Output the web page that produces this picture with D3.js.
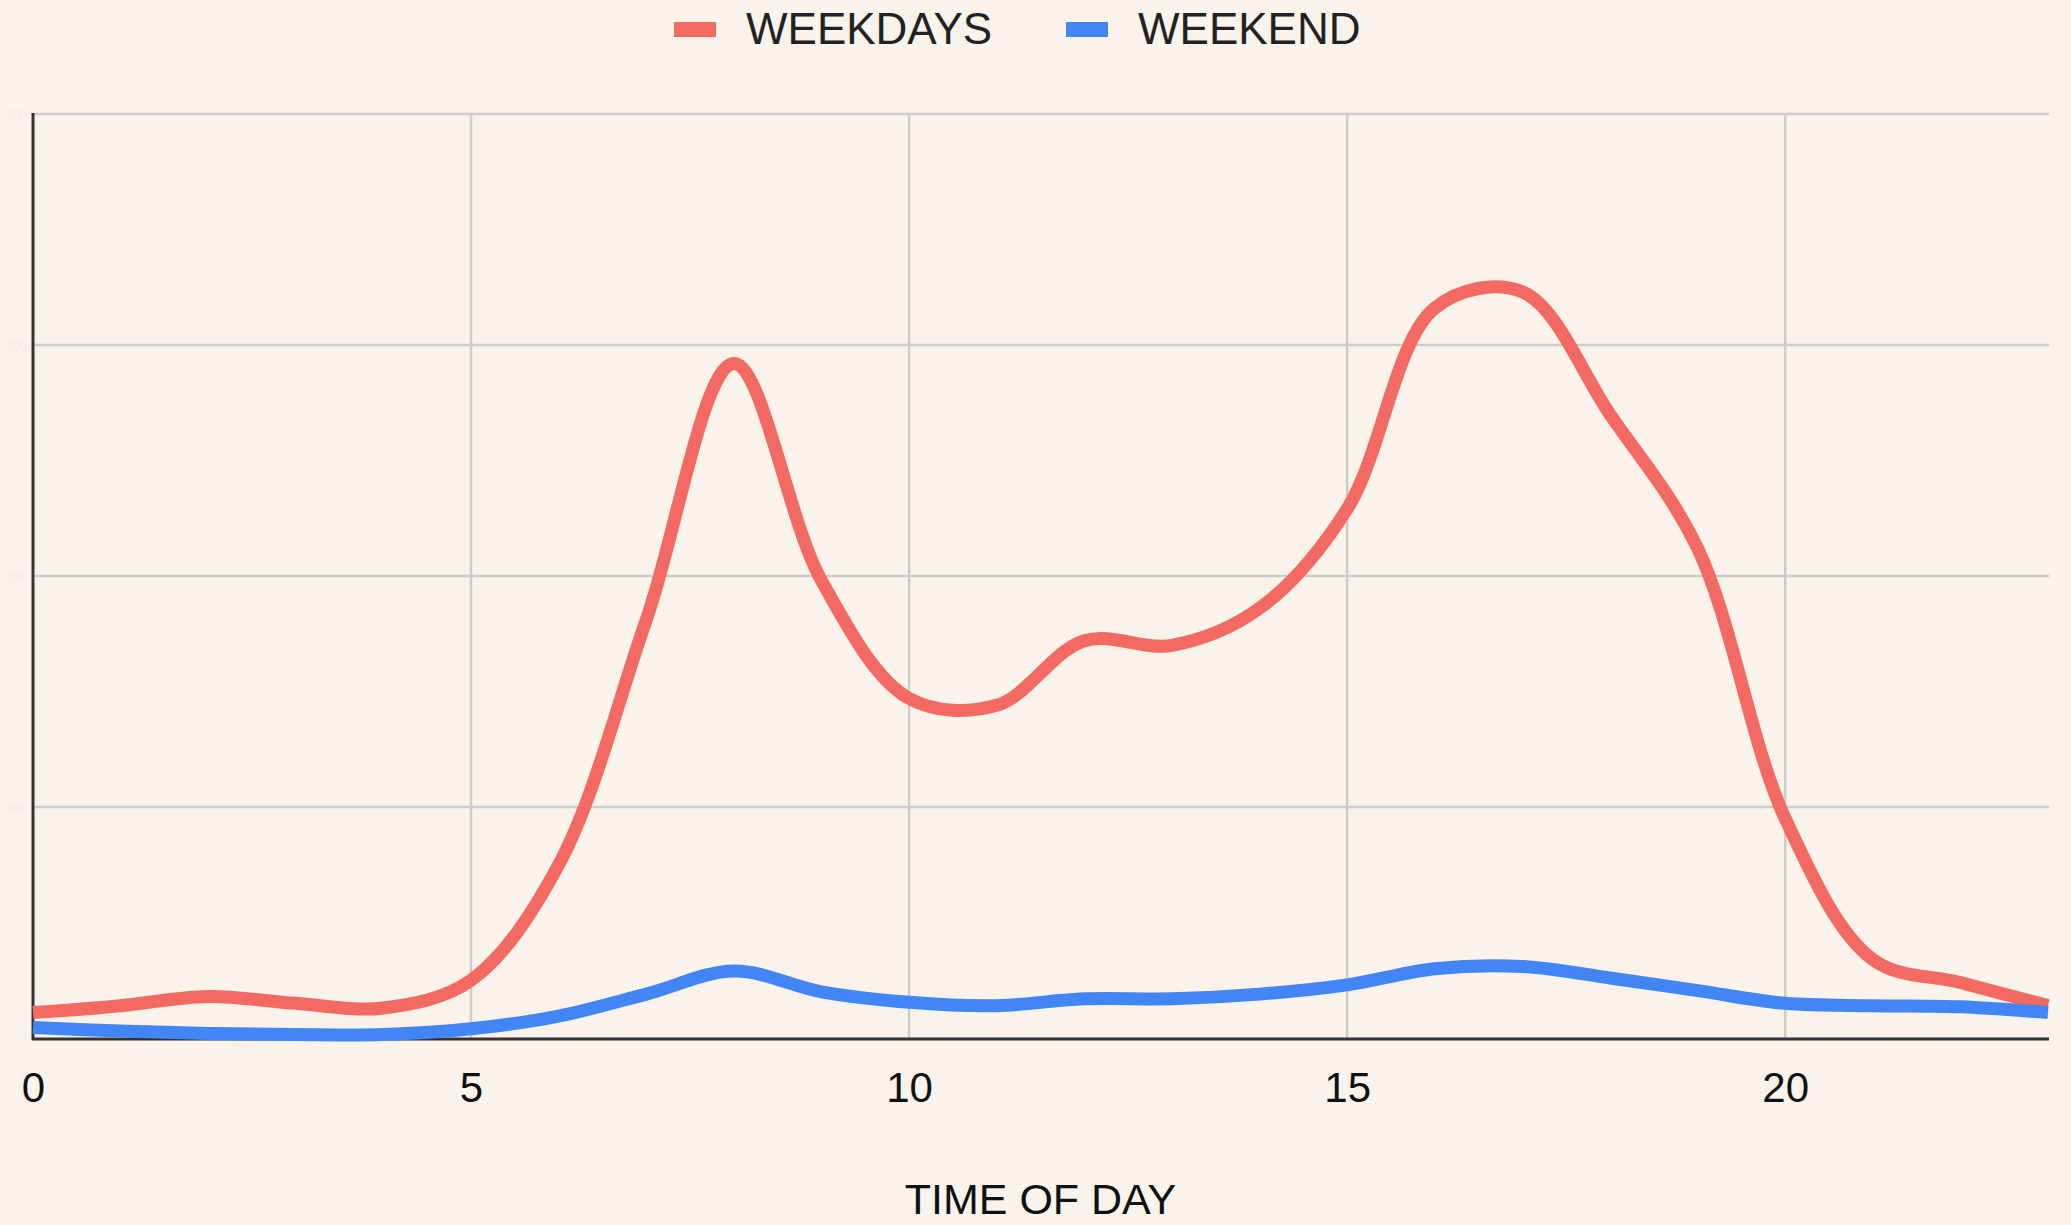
<!DOCTYPE html>
<html>
<head>
<meta charset="utf-8">
<script src="https://cdn.jsdelivr.net/npm/d3@7"></script>
<style>
  html, body { margin: 0; padding: 0; background: #faf3eb; }
  #chart svg { display: block; }
  .axis text { font-family: "Liberation Sans", Arial, sans-serif; }
</style>
</head>
<body>
<div id="chart"></div>
<script>
// hour of day and the two series
var hours = [0, 1, 2, 3, 4, 5, 6, 7, 8, 9, 10, 11, 12, 13, 14, 15, 16, 17, 18, 19, 20, 21, 22, 23];
var weekdays = [11, 14, 18, 15, 13, 25, 75, 181, 292, 198, 147, 144, 172, 170, 186, 229, 316, 323, 270, 212, 95, 34, 24, 14];
var weekend = [4.5, 3, 2, 1.5, 1.5, 4, 9.5, 19, 29, 20, 15.5, 14, 17, 17, 19, 23, 30, 31, 26, 20.5, 15, 14, 13.5, 11];
var xTicks = [0, 5, 10, 15, 20];
var yTicks = [0, 100, 200, 300, 400];
var seriesNames = ["WEEKDAYS", "WEEKEND"];
var seriesColors = ["#f26a62", "#4286f5"];

function init(){

var w = 2071;
var h = 1225;
var left = 33, right = 2048, top = 114, bottom = 1038;

    var svg = d3.select("#chart")
      .append("svg")
      .attr("width", w)
      .attr("height", h);

    svg.append("rect")
      .attr("width", w)
      .attr("height", h)
      .attr("fill", "#faf3eb");

    var xScale = d3.scaleLinear()
      .domain([0, 23])
      .range([left, right]);
    var yScale = d3.scaleLinear()
      .domain([0, 400])
      .range([bottom, top]);

    // grid
    svg.append("g")
      .selectAll("line")
      .data(yTicks.slice(1))
      .enter().append("line")
      .attr("x1", left).attr("x2", right + 1)
      .attr("y1", function(d) { return yScale(d); })
      .attr("y2", function(d) { return yScale(d); })
      .attr("stroke", "#cccccc")
      .attr("stroke-width", 2.5);

    svg.append("g")
      .selectAll("line")
      .data(xTicks.slice(1))
      .enter().append("line")
      .attr("x1", function(d) { return xScale(d); })
      .attr("x2", function(d) { return xScale(d); })
      .attr("y1", top)
      .attr("y2", bottom)
      .attr("stroke", "#cccccc")
      .attr("stroke-width", 2.5);

    // y labels are almost the same colour as the background
    var yAxis = d3.axisLeft(yScale).tickValues(yTicks).tickSize(0).tickPadding(6);
    var gy = svg.append("g")
      .attr("class", "axis y-axis")
      .attr("transform", "translate(" + left + ",0)")
      .call(yAxis);
    gy.select(".domain").remove();
    gy.selectAll("text")
      .attr("fill", "#f5ede2")
      .style("font-size", "13px");

    var xAxis = d3.axisBottom(xScale).tickValues(xTicks).tickSize(0).tickPadding(34);
    var gx = svg.append("g")
      .attr("class", "axis x-axis")
      .attr("transform", "translate(0," + bottom + ")")
      .call(xAxis);
    gx.select(".domain").remove();
    gx.selectAll("text")
      .attr("fill", "#111")
      .style("font-size", "42px");

    var line = d3.line()
      .x(function(d, i) { return xScale(hours[i]); })
      .y(function(d) { return yScale(d); })
      .curve(d3.curveCatmullRom.alpha(0.5));

    // axis lines
    svg.append("line")
      .attr("x1", left).attr("x2", left)
      .attr("y1", top - 1).attr("y2", bottom + 2)
      .attr("stroke", "#333").attr("stroke-width", 3);
    svg.append("line")
      .attr("x1", left - 1).attr("x2", right + 1)
      .attr("y1", bottom + 1).attr("y2", bottom + 1)
      .attr("stroke", "#333").attr("stroke-width", 3);

    [weekdays, weekend].forEach(function(s, i) {
      svg.append("path")
        .datum(s)
        .attr("fill", "none")
        .attr("stroke", seriesColors[i])
        .attr("stroke-width", 13)
        .attr("stroke-linejoin", "round")
        .attr("d", line);
    });

    // legend
    var legendX = [674, 1066];
    var lg = svg.append("g");
    seriesNames.forEach(function(name, i) {
      lg.append("rect")
        .attr("x", legendX[i]).attr("y", 22)
        .attr("width", 42).attr("height", 15)
        .attr("fill", seriesColors[i]);
      lg.append("text")
        .attr("x", legendX[i] + 72).attr("y", 44)
        .attr("font-family", "Liberation Sans, Arial, sans-serif")
        .attr("font-size", 44)
        .attr("fill", "#222")
        .text(name);
    });

    svg.append("text")
      .attr("x", (left + right) / 2)
      .attr("y", 1214)
      .attr("text-anchor", "middle")
      .attr("font-family", "Liberation Sans, Arial, sans-serif")
      .attr("font-size", 43)
      .attr("fill", "#111")
      .text("TIME OF DAY");
}

window.onload = init;
</script>
</body>
</html>
